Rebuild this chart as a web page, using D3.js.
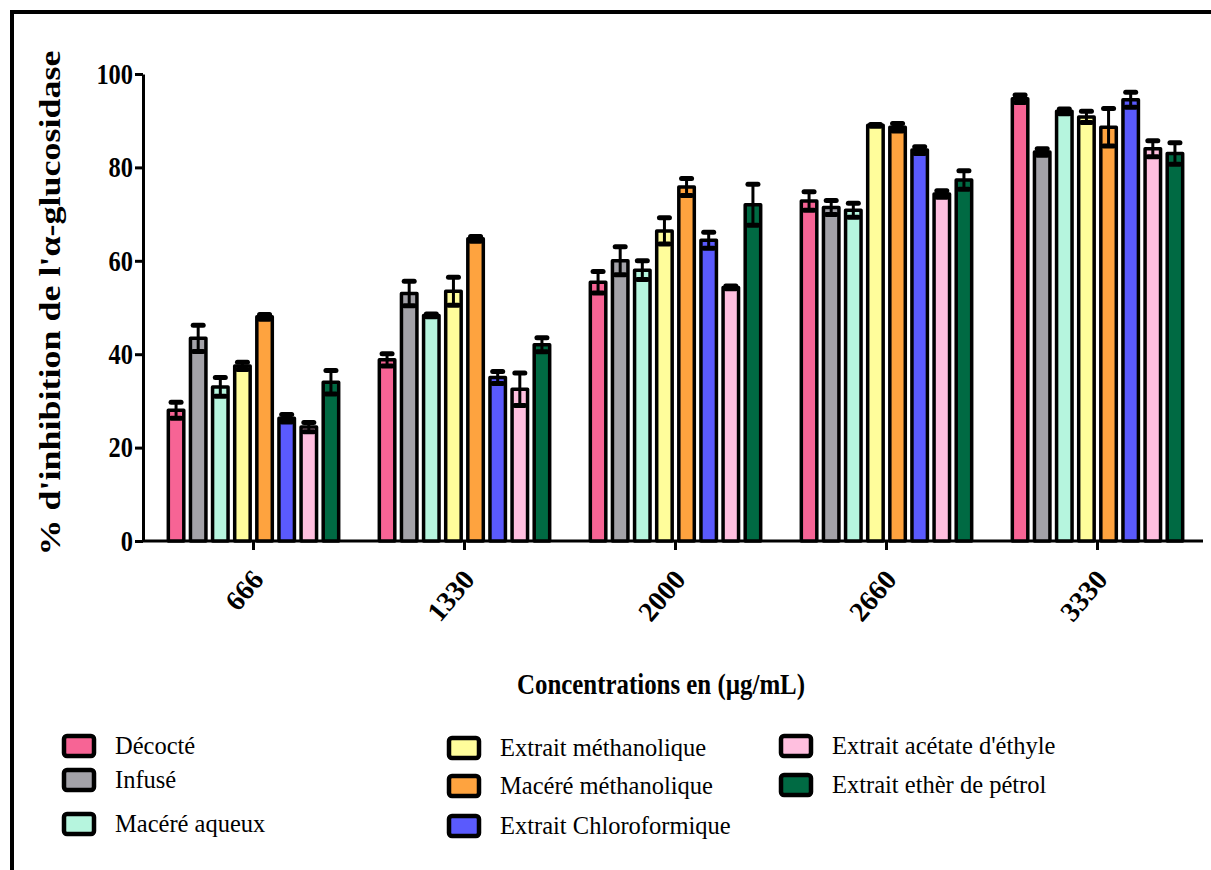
<!DOCTYPE html>
<html>
<head>
<meta charset="utf-8">
<script src="https://cdn.jsdelivr.net/npm/d3@7/dist/d3.min.js"></script>
<style>
  html, body { margin: 0; padding: 0; background: #fff; }
  svg { display: block; }
</style>
</head>
<body>
<svg id="chart" width="1211" height="870"></svg>
<script>
// ---------- data ----------
const concentrations = ["666", "1330", "2000", "2660", "3330"];
const seriesNames = ["Décocté", "Infusé", "Macéré aqueux", "Extrait méthanolique",
  "Macéré méthanolique", "Extrait Chloroformique", "Extrait acétate d'éthyle", "Extrait ethèr de pétrol"];
const seriesColors = ["#F76495", "#A3A2A8", "#B6F5DE", "#FFFD9B", "#FEA33F", "#5A5AFD", "#FFBFDF", "#006A43"];
// mean values per series (order of concentrations)
const decocte      = [28.0, 38.8, 55.4, 72.8, 94.7];
const infuse       = [43.4, 53.0, 60.0, 71.4, 83.3];
const macereAqueux = [33.0, 48.3, 58.0, 70.8, 92.0];
const extraitMeth  = [37.5, 53.5, 66.4, 89.0, 90.8];
const macereMeth   = [48.0, 64.7, 75.8, 88.6, 88.6];
const chloro       = [26.3, 35.0, 64.4, 83.7, 94.5];
const acetate      = [24.4, 32.5, 54.3, 74.3, 84.0];
const ether        = [34.0, 42.0, 72.0, 77.3, 83.0];
// standard errors
const decocteErr      = [1.7, 1.3, 2.3, 2.0, 0.8];
const infuseErr       = [2.8, 2.6, 3.0, 1.5, 0.7];
const macereAqueuxErr = [2.0, 0.3, 2.0, 1.5, 0.5];
const extraitMethErr  = [0.8, 3.0, 2.8, 0.2, 1.2];
const macereMethErr   = [0.5, 0.5, 1.8, 0.8, 4.0];
const chloroErr       = [0.8, 1.3, 1.7, 0.7, 1.6];
const acetateErr      = [1.0, 3.5, 0.3, 0.7, 1.7];
const etherErr        = [2.5, 1.5, 4.4, 2.0, 2.3];
const yTicks = [0, 20, 40, 60, 80, 100];

const means = [decocte, infuse, macereAqueux, extraitMeth, macereMeth, chloro, acetate, ether];
const errs = [decocteErr, infuseErr, macereAqueuxErr, extraitMethErr, macereMethErr, chloroErr, acetateErr, etherErr];

const rows = [];
concentrations.forEach((c, ci) => {
  seriesNames.forEach((s, si) => {
    rows.push({conc: c, series: s, color: seriesColors[si], v: means[si][ci], e: errs[si][ci]});
  });
});

// ---------- layout ----------
const svg = d3.select("#chart");
const serif = "'Liberation Serif', 'Times New Roman', serif";

// frame (only top and left visible)
svg.append("rect").attr("x", 12).attr("y", 12).attr("width", 1260).attr("height", 920)
  .attr("fill", "none").attr("stroke", "#000").attr("stroke-width", 4);

const x0 = d3.scaleBand().domain(concentrations).range([148, 1203]).padding(0);
const x1 = d3.scaleBand().domain(seriesNames).range([17, 194]).paddingInner(0.3).paddingOuter(0.15);
const y = d3.scaleLinear().domain([0, 100]).range([541, 74]);

// y axis
const yAxis = svg.append("g").attr("transform", "translate(143,0)")
  .call(d3.axisLeft(y).tickValues(yTicks).tickSize(8).tickPadding(2).tickSizeOuter(0));
yAxis.select(".domain").attr("stroke", "#000").attr("stroke-width", 3);
yAxis.selectAll(".tick line").attr("stroke", "#000").attr("stroke-width", 3);
yAxis.selectAll(".tick text")
  .attr("font-family", serif).attr("font-weight", "bold").attr("font-size", 29).attr("fill", "#000")
  .attr("textLength", d => String(d).length * 12.2).attr("lengthAdjust", "spacingAndGlyphs");

// x axis
const xAxis = svg.append("g").attr("transform", "translate(0,541)")
  .call(d3.axisBottom(x0).tickSize(9).tickSizeOuter(0).tickFormat(""));
xAxis.select(".domain").attr("stroke", "#000").attr("stroke-width", 3).attr("d", "M143,0H1203");
xAxis.selectAll(".tick line").attr("stroke", "#000").attr("stroke-width", 3);
xAxis.selectAll(".tick").append("text")
  .attr("transform", "translate(4,33) rotate(-50)")
  .attr("text-anchor", "end").attr("dy", "0.35em")
  .attr("font-family", serif).attr("font-weight", "bold").attr("font-size", 28).attr("fill", "#000")
  .text(d => d);

// bars
const groups = svg.append("g").selectAll("g").data(concentrations).join("g")
  .attr("transform", d => `translate(${x0(d)},0)`);

groups.selectAll("rect").data(c => rows.filter(r => r.conc === c)).join("rect")
  .attr("x", d => x1(d.series)).attr("width", x1.bandwidth())
  .attr("y", d => y(d.v)).attr("height", d => y(0) - y(d.v))
  .attr("fill", d => d.color).attr("stroke", "#000").attr("stroke-width", 3.5)
  .attr("stroke-linejoin", "round");

// error bars
const eb = groups.selectAll("g.err").data(c => rows.filter(r => r.conc === c)).join("g").attr("class", "err");
eb.append("line")
  .attr("x1", d => x1(d.series) + x1.bandwidth() / 2).attr("x2", d => x1(d.series) + x1.bandwidth() / 2)
  .attr("y1", d => y(d.v + d.e)).attr("y2", d => y(d.v - d.e))
  .attr("stroke", "#000").attr("stroke-width", 3);
[1, -1].forEach(sgn => {
  eb.append("line")
    .attr("x1", d => x1(d.series) + x1.bandwidth() / 2 - 5).attr("x2", d => x1(d.series) + x1.bandwidth() / 2 + 5)
    .attr("y1", d => y(d.v + sgn * d.e)).attr("y2", d => y(d.v + sgn * d.e))
    .attr("stroke", "#000").attr("stroke-width", 5).attr("stroke-linecap", "round");
});

// axis titles
svg.append("text")
  .attr("transform", "translate(60,303) rotate(-90)")
  .attr("text-anchor", "middle")
  .attr("font-family", serif).attr("font-weight", "bold").attr("font-size", 30).attr("fill", "#000")
  .attr("textLength", 505).attr("lengthAdjust", "spacingAndGlyphs")
  .text("% d'inhibition de l'α-glucosidase");

svg.append("text")
  .attr("x", 661).attr("y", 694).attr("text-anchor", "middle")
  .attr("font-family", serif).attr("font-weight", "bold").attr("font-size", 29).attr("fill", "#000")
  .attr("textLength", 288).attr("lengthAdjust", "spacingAndGlyphs")
  .text("Concentrations en (µg/mL)");

// legend
const legendPos = [
  [64, 746], [64, 780], [64, 824],
  [449, 748], [449, 786], [449, 826],
  [781, 746], [781, 785]
];
const leg = svg.append("g").selectAll("g").data(seriesNames).join("g")
  .attr("transform", (d, i) => `translate(${legendPos[i][0]},${legendPos[i][1]})`);
leg.append("rect").attr("x", 0).attr("y", -10).attr("width", 30).attr("height", 20)
  .attr("rx", 3).attr("fill", (d, i) => seriesColors[i]).attr("stroke", "#000").attr("stroke-width", 4.5);
leg.append("text").attr("x", 51).attr("y", 0).attr("dy", "0.33em")
  .attr("font-family", serif).attr("font-size", 24.5).attr("fill", "#000")
  .text(d => d);
</script>
</body>
</html>
